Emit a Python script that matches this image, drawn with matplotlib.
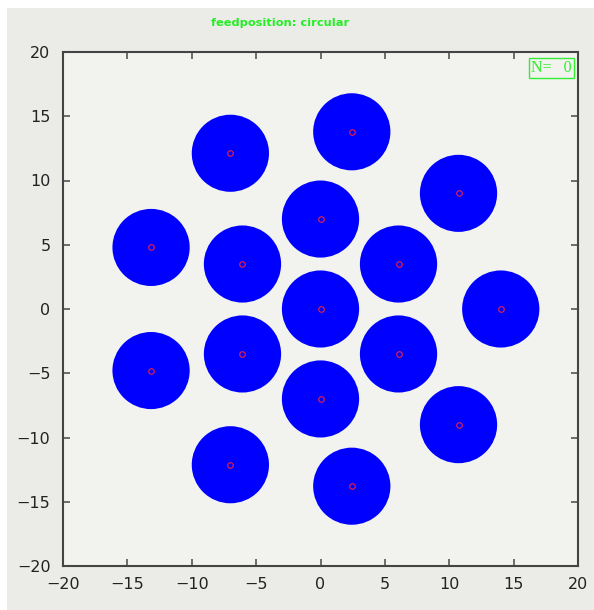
import matplotlib
matplotlib.use("Agg")
import matplotlib.pyplot as plt
from matplotlib.patches import Circle, Rectangle

# feed positions (x, y) and feed radius
feed_x = [0.0, 0.0, 6.06, 6.06, 0.0, -6.06, -6.06,
          14.0, 10.72, 2.43, -7.0, -13.16, -13.16, -7.0, 2.43, 10.72]
feed_y = [0.0, 7.0, 3.5, -3.5, -7.0, -3.5, 3.5,
          0.0, 9.0, 13.79, 12.12, 4.79, -4.79, -12.12, -13.79, -9.0]
feed_r = 3.0
ticks = [-20, -15, -10, -5, 0, 5, 10, 15, 20]
title = "feedposition: circular"
counter = "N=   0"

fig = plt.figure(figsize=(5.94, 6.10), dpi=100, facecolor="white")
# grey frame of the window (white strip at top and left)
fig.patches.append(Rectangle((7 / 594, 0), 1, (610 - 8) / 610, transform=fig.transFigure,
                             facecolor="#ebebe8", edgecolor="none", zorder=-10))

ax = fig.add_axes([63 / 594, 44 / 610, 515 / 594, 514 / 610])
ax.set_facecolor("#f2f2ef")

for x, y in zip(feed_x, feed_y):
    ax.add_patch(Circle((x, y), feed_r, facecolor="#0000ff", edgecolor="none"))
ax.plot(feed_x, feed_y, "o", mfc="none", mec="#ee2040", ms=4, mew=0.8)

ax.set_xlim(-20, 20)
ax.set_ylim(-20, 20)
ax.set_xticks(ticks)
ax.set_yticks(ticks)
ax.tick_params(direction="in", length=5, width=1.2, color="#555555",
               top=True, right=True, labelsize=11.5, labelcolor="#222222")
ax.tick_params(axis="x", pad=8)
ax.tick_params(axis="y", pad=9)
for s in ax.spines.values():
    s.set_color("#444444")
    s.set_linewidth(1.5)

fig.text(0.472, 0.962, title, color="#22ee22", fontsize=8.2, fontweight="bold",
         ha="center", va="center")
ax.text(0.988, 0.985, counter, transform=ax.transAxes, color="#33ee33",
        fontsize=11.5, family="Liberation Serif", ha="right", va="top",
        bbox=dict(boxstyle="square,pad=0.12", facecolor="none", edgecolor="#33ee33", lw=1))

fig.savefig("out.png", dpi=100, facecolor=fig.get_facecolor())
